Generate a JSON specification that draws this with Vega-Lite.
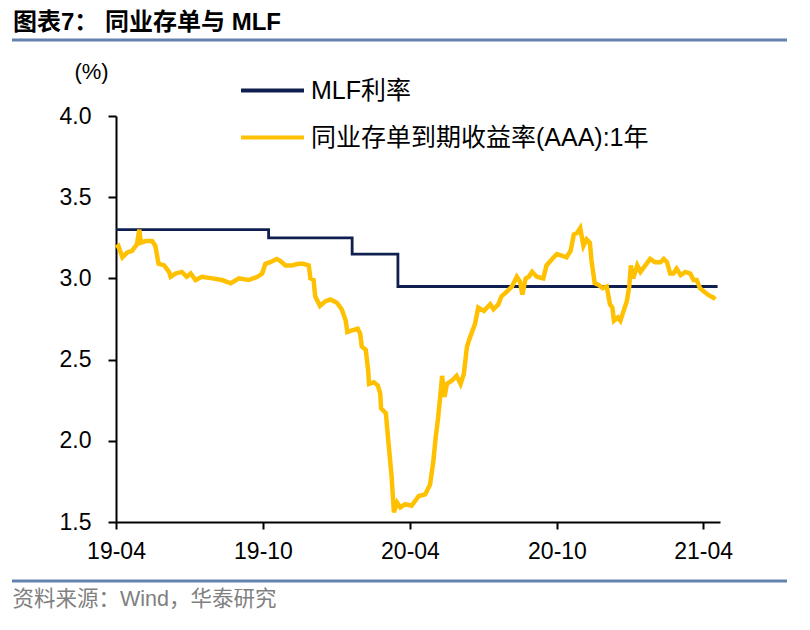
{
  "$schema": "https://vega.github.io/schema/vega-lite/v6.json",
  "background": "white",
  "autosize": {"type": "none"},
  "padding": {"left": 116, "top": 116, "right": 90, "bottom": 108},
  "width": 604,
  "height": 406,
  "title": {
    "text": "图表7： 同业存单与 MLF",
    "anchor": "start",
    "frame": "group",
    "dx": -103,
    "offset": 4,
    "font": "Liberation Sans, Noto Sans CJK SC",
    "fontSize": 24,
    "fontWeight": "bold",
    "color": "black"
  },
  "datasets": {
    "mlf": [
      {"date": "2019-04-01", "value": 3.30},
      {"date": "2019-10-08", "value": 3.25},
      {"date": "2020-01-20", "value": 3.15},
      {"date": "2020-03-17", "value": 2.95},
      {"date": "2021-04-19", "value": 2.95}
    ],
    "ncd": [
      {"date": "2019-04-01", "value": 3.19},
      {"date": "2019-04-04", "value": 3.20},
      {"date": "2019-04-09", "value": 3.13},
      {"date": "2019-04-15", "value": 3.16},
      {"date": "2019-04-21", "value": 3.17},
      {"date": "2019-04-27", "value": 3.21},
      {"date": "2019-04-30", "value": 3.30},
      {"date": "2019-05-02", "value": 3.22},
      {"date": "2019-05-08", "value": 3.23},
      {"date": "2019-05-16", "value": 3.23},
      {"date": "2019-05-20", "value": 3.20},
      {"date": "2019-05-24", "value": 3.09},
      {"date": "2019-05-31", "value": 3.08},
      {"date": "2019-06-06", "value": 3.04},
      {"date": "2019-06-08", "value": 3.01},
      {"date": "2019-06-14", "value": 3.03},
      {"date": "2019-06-22", "value": 3.04},
      {"date": "2019-06-28", "value": 3.01},
      {"date": "2019-07-03", "value": 3.03},
      {"date": "2019-07-09", "value": 2.99},
      {"date": "2019-07-17", "value": 3.01},
      {"date": "2019-07-30", "value": 3.00},
      {"date": "2019-08-11", "value": 2.99},
      {"date": "2019-08-22", "value": 2.97},
      {"date": "2019-09-01", "value": 3.00},
      {"date": "2019-09-13", "value": 2.99},
      {"date": "2019-09-24", "value": 3.01},
      {"date": "2019-09-30", "value": 3.03},
      {"date": "2019-10-04", "value": 3.09},
      {"date": "2019-10-10", "value": 3.10},
      {"date": "2019-10-18", "value": 3.12},
      {"date": "2019-10-22", "value": 3.11},
      {"date": "2019-10-29", "value": 3.08},
      {"date": "2019-11-06", "value": 3.08},
      {"date": "2019-11-14", "value": 3.09},
      {"date": "2019-11-20", "value": 3.09},
      {"date": "2019-11-27", "value": 3.08},
      {"date": "2019-11-29", "value": 3.00},
      {"date": "2019-12-03", "value": 2.99},
      {"date": "2019-12-05", "value": 2.89},
      {"date": "2019-12-11", "value": 2.83},
      {"date": "2019-12-18", "value": 2.86},
      {"date": "2019-12-24", "value": 2.87},
      {"date": "2020-01-01", "value": 2.85},
      {"date": "2020-01-07", "value": 2.81},
      {"date": "2020-01-12", "value": 2.74},
      {"date": "2020-01-14", "value": 2.67},
      {"date": "2020-01-20", "value": 2.68},
      {"date": "2020-01-27", "value": 2.69},
      {"date": "2020-01-30", "value": 2.66},
      {"date": "2020-02-01", "value": 2.58},
      {"date": "2020-02-06", "value": 2.56},
      {"date": "2020-02-09", "value": 2.43},
      {"date": "2020-02-10", "value": 2.35},
      {"date": "2020-02-16", "value": 2.36},
      {"date": "2020-02-21", "value": 2.34},
      {"date": "2020-02-24", "value": 2.29},
      {"date": "2020-02-25", "value": 2.20},
      {"date": "2020-03-02", "value": 2.17},
      {"date": "2020-03-05", "value": 2.00},
      {"date": "2020-03-09", "value": 1.79},
      {"date": "2020-03-12", "value": 1.56},
      {"date": "2020-03-16", "value": 1.62},
      {"date": "2020-03-20", "value": 1.59},
      {"date": "2020-03-26", "value": 1.61},
      {"date": "2020-04-03", "value": 1.60},
      {"date": "2020-04-12", "value": 1.66},
      {"date": "2020-04-20", "value": 1.67},
      {"date": "2020-04-26", "value": 1.73},
      {"date": "2020-04-30", "value": 1.87},
      {"date": "2020-05-03", "value": 2.02},
      {"date": "2020-05-06", "value": 2.14},
      {"date": "2020-05-09", "value": 2.29},
      {"date": "2020-05-11", "value": 2.40},
      {"date": "2020-05-14", "value": 2.27},
      {"date": "2020-05-17", "value": 2.35},
      {"date": "2020-05-23", "value": 2.37},
      {"date": "2020-05-29", "value": 2.40},
      {"date": "2020-06-03", "value": 2.35},
      {"date": "2020-06-07", "value": 2.41},
      {"date": "2020-06-11", "value": 2.58},
      {"date": "2020-06-15", "value": 2.64},
      {"date": "2020-06-21", "value": 2.72},
      {"date": "2020-06-25", "value": 2.82},
      {"date": "2020-07-02", "value": 2.80},
      {"date": "2020-07-10", "value": 2.84},
      {"date": "2020-07-14", "value": 2.81},
      {"date": "2020-07-20", "value": 2.84},
      {"date": "2020-07-24", "value": 2.89},
      {"date": "2020-07-31", "value": 2.92},
      {"date": "2020-08-06", "value": 2.95},
      {"date": "2020-08-12", "value": 3.01},
      {"date": "2020-08-16", "value": 2.98},
      {"date": "2020-08-19", "value": 2.90},
      {"date": "2020-08-23", "value": 3.00},
      {"date": "2020-08-27", "value": 3.01},
      {"date": "2020-08-31", "value": 3.04},
      {"date": "2020-09-06", "value": 3.01},
      {"date": "2020-09-14", "value": 3.00},
      {"date": "2020-09-18", "value": 3.08},
      {"date": "2020-09-25", "value": 3.12},
      {"date": "2020-10-01", "value": 3.15},
      {"date": "2020-10-07", "value": 3.14},
      {"date": "2020-10-13", "value": 3.13},
      {"date": "2020-10-18", "value": 3.17},
      {"date": "2020-10-22", "value": 3.27},
      {"date": "2020-10-26", "value": 3.28},
      {"date": "2020-10-30", "value": 3.31},
      {"date": "2020-11-03", "value": 3.20},
      {"date": "2020-11-07", "value": 3.24},
      {"date": "2020-11-11", "value": 3.22},
      {"date": "2020-11-13", "value": 3.11},
      {"date": "2020-11-17", "value": 2.97},
      {"date": "2020-11-22", "value": 2.96},
      {"date": "2020-11-27", "value": 2.94},
      {"date": "2020-12-02", "value": 2.95},
      {"date": "2020-12-06", "value": 2.84},
      {"date": "2020-12-09", "value": 2.82},
      {"date": "2020-12-11", "value": 2.74},
      {"date": "2020-12-16", "value": 2.76},
      {"date": "2020-12-19", "value": 2.74},
      {"date": "2020-12-23", "value": 2.80},
      {"date": "2020-12-27", "value": 2.86},
      {"date": "2020-12-30", "value": 2.95},
      {"date": "2021-01-01", "value": 3.08},
      {"date": "2021-01-04", "value": 3.00},
      {"date": "2021-01-09", "value": 3.08},
      {"date": "2021-01-13", "value": 3.04},
      {"date": "2021-01-19", "value": 3.08},
      {"date": "2021-01-25", "value": 3.12},
      {"date": "2021-01-31", "value": 3.10},
      {"date": "2021-02-07", "value": 3.10},
      {"date": "2021-02-11", "value": 3.12},
      {"date": "2021-02-15", "value": 3.10},
      {"date": "2021-02-19", "value": 3.03},
      {"date": "2021-02-23", "value": 3.03},
      {"date": "2021-02-27", "value": 3.06},
      {"date": "2021-03-04", "value": 3.02},
      {"date": "2021-03-10", "value": 3.04},
      {"date": "2021-03-16", "value": 3.03},
      {"date": "2021-03-20", "value": 2.99},
      {"date": "2021-03-24", "value": 2.99},
      {"date": "2021-03-28", "value": 2.94},
      {"date": "2021-04-02", "value": 2.92},
      {"date": "2021-04-07", "value": 2.90},
      {"date": "2021-04-14", "value": 2.88},
      {"date": "2021-04-16", "value": 2.89}
    ],
    "blank": [{}]
  },
  "layer": [
    {
      "data": {"name": "mlf"},
      "mark": {"type": "line", "interpolate": "step-after", "strokeWidth": 2.8},
      "encoding": {
        "x": {
          "field": "date",
          "type": "temporal",
          "scale": {
            "type": "utc",
            "domain": [
              {"year": 2019, "month": 4, "date": 1, "utc": true},
              {"year": 2021, "month": 4, "date": 22, "utc": true}
            ]
          },
          "axis": {
            "values": [
              {"year": 2019, "month": 4, "date": 1, "utc": true},
              {"year": 2019, "month": 10, "date": 1, "utc": true},
              {"year": 2020, "month": 4, "date": 1, "utc": true},
              {"year": 2020, "month": 10, "date": 1, "utc": true},
              {"year": 2021, "month": 4, "date": 1, "utc": true}
            ],
            "labelExpr": "utcFormat(datum.value, '%y-%m')",
            "labelFlush": false,
            "title": "资料来源：Wind，华泰研究",
            "titleX": -104,
            "titleY": 77,
            "titleAlign": "left",
            "titleAnchor": null,
            "titleBaseline": "middle",
            "titleFont": "Liberation Sans, Noto Sans CJK SC",
            "titleFontSize": 21.5,
            "titleFontWeight": "normal",
            "titleColor": "#808080",
            "labelPadding": 11,
            "tickSize": 7
          }
        },
        "y": {
          "field": "value",
          "type": "quantitative",
          "scale": {"domain": [1.5, 4.0], "nice": false, "zero": false},
          "axis": {
            "values": [1.5, 2.0, 2.5, 3.0, 3.5, 4.0],
            "format": ".1f",
            "title": "(%)",
            "titleAngle": 0,
            "titleX": -25,
            "titleY": -45,
            "titleAlign": "center",
            "titleAnchor": null,
            "titleBaseline": "middle",
            "titleFont": "Liberation Sans",
            "titleFontSize": 22,
            "titleFontWeight": "normal",
            "titleColor": "black",
            "labelPadding": 17,
            "tickSize": 8
          }
        },
        "color": {
          "datum": "MLF利率",
          "type": "nominal",
          "scale": {
            "domain": ["MLF利率", "同业存单到期收益率(AAA):1年"],
            "range": ["#0f2050", "#ffc000"]
          },
          "legend": {
            "title": null,
            "orient": "none",
            "legendX": 123,
            "legendY": -59,
            "symbolType": "stroke",
            "symbolSize": 3969,
            "symbolStrokeWidth": 4,
            "labelFont": "Liberation Sans, Noto Sans CJK SC",
            "labelFontSize": 25,
            "labelColor": "black",
            "labelOffset": 5,
            "labelLimit": 600,
            "rowPadding": -22,
            "padding": 0
          }
        }
      }
    },
    {
      "data": {"name": "ncd"},
      "mark": {"type": "line", "strokeWidth": 4.5},
      "encoding": {
        "x": {"field": "date", "type": "temporal"},
        "y": {"field": "value", "type": "quantitative"},
        "color": {"datum": "同业存单到期收益率(AAA):1年", "type": "nominal"}
      }
    },
    {
      "data": {"name": "blank"},
      "mark": {"type": "rule", "color": "#6482ae", "strokeWidth": 3, "clip": false},
      "encoding": {"x": {"value": -104}, "x2": {"value": 671}, "y": {"value": -76}}
    },
    {
      "data": {"name": "blank"},
      "mark": {"type": "rule", "color": "#6482ae", "strokeWidth": 3, "clip": false},
      "encoding": {"x": {"value": -104}, "x2": {"value": 671}, "y": {"value": 465}}
    }
  ],
  "config": {
    "view": {"stroke": null},
    "axis": {
      "grid": false,
      "domainColor": "black",
      "domainWidth": 2,
      "tickColor": "black",
      "tickWidth": 2,
      "labelFont": "Liberation Sans",
      "labelFontSize": 23,
      "labelColor": "black",
      "labelAngle": 0
    }
  }
}
